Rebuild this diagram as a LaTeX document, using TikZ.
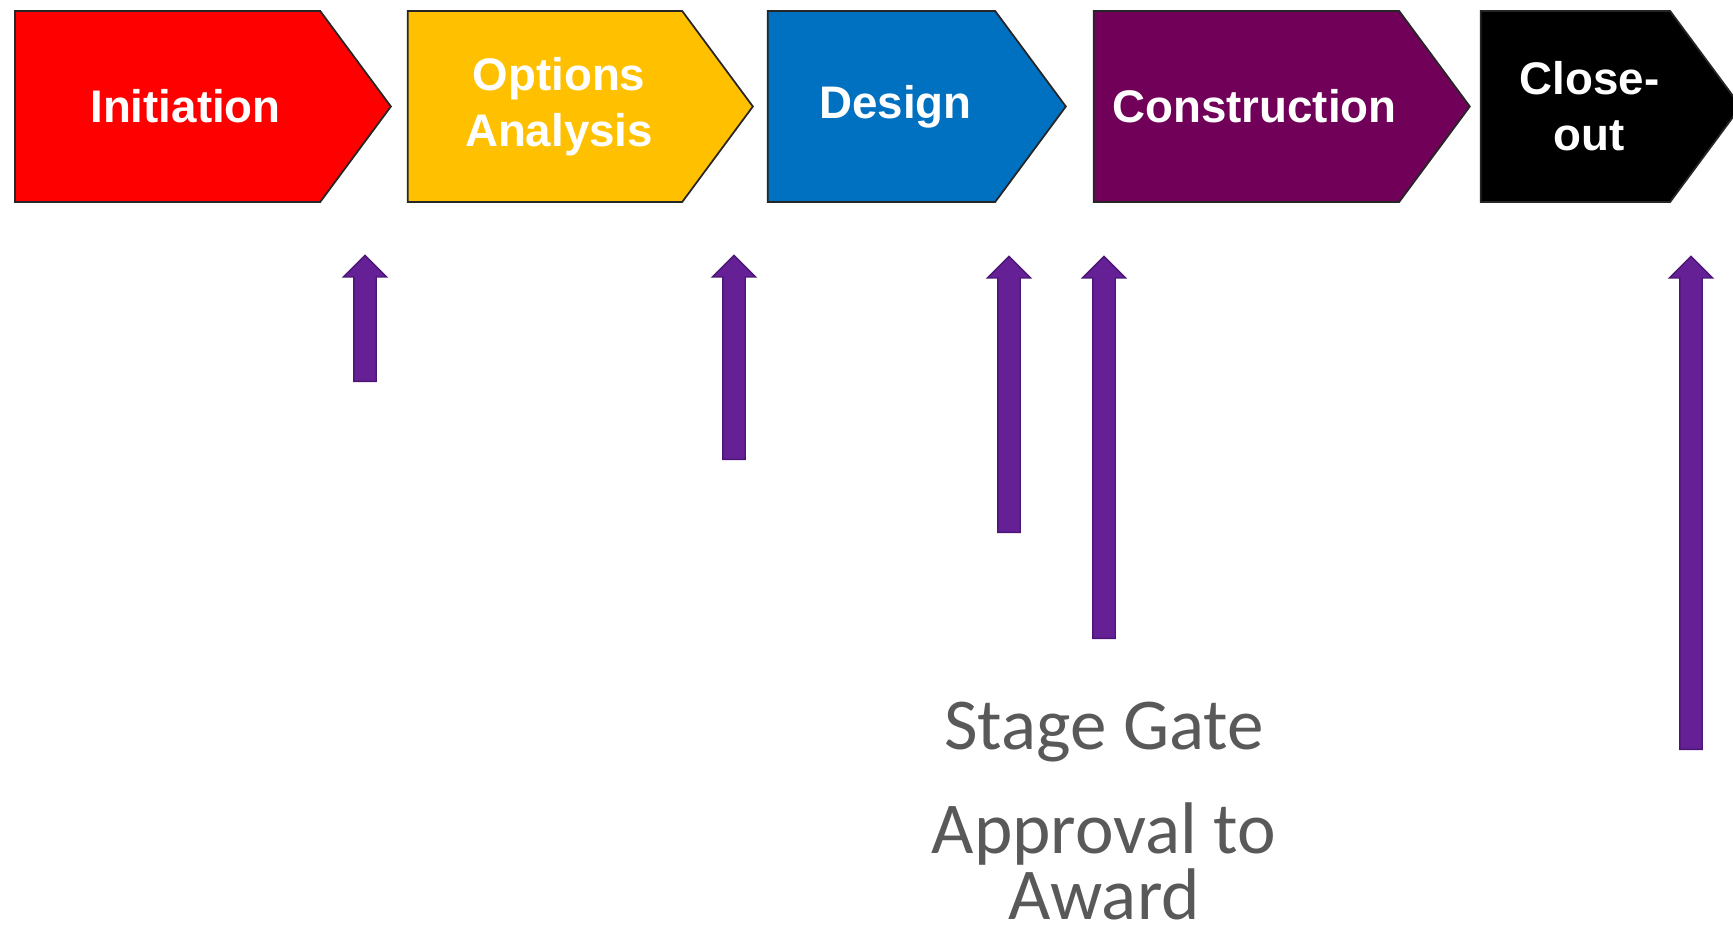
\documentclass[tikz,border=0pt]{standalone}
\usepackage{fontspec}
\setmainfont{Liberation Sans}
\newfontfamily\gatefont{Carlito}
\usetikzlibrary{positioning,shapes.symbols,shapes.arrows}
\definecolor{initred}{RGB}{255,0,0}
\definecolor{optyellow}{RGB}{255,192,0}
\definecolor{desblue}{RGB}{0,112,192}
\definecolor{conpurple}{RGB}{112,0,88}
\definecolor{gatepurple}{RGB}{102,32,150}
\definecolor{gateedge}{RGB}{76,22,118}
\definecolor{gatetext}{RGB}{89,89,89}
\newcommand{\tipgap}{\kern0.28cm}
\tikzset{
  ph/.style={signal, signal to=east, signal pointer angle=107, minimum height=1.91cm, inner sep=0pt, draw=black!85, line width=0.5pt, text=white, font=\fontsize{13}{16}\selectfont\bfseries, align=center},
  ga/.style={single arrow, single arrow head extend=0.105cm, single arrow tip angle=90, inner sep=0.105cm, rotate=90, anchor=tail, fill=gatepurple, draw=gateedge, line width=0.4pt},
  gl/.style={text=gatetext, font=\gatefont\fontsize{20.8}{18.5}\selectfont, align=center, inner sep=0pt},
  node distance=1.5mm
}
\begin{document}
\begin{tikzpicture}
	\useasboundingbox (0,0) rectangle (17.33,-9.27);
	% phases
	\node[ph, fill=initred, minimum width=3.76cm, anchor=west] (init) at (0.14,-1.065) {\tipgap\kern0.08cm Initiation};
	\node[ph, fill=optyellow, minimum width=3.45cm, right=0.15cm of init] (opt) {\tipgap Options\\\tipgap Analysis};
	\node[ph, fill=desblue, minimum width=2.98cm, right=0.13cm of opt] (des) {\tipgap Design};
	\node[ph, fill=conpurple, minimum width=3.76cm, right=0.26cm of des] (con) {\kern0.16cm Construction};
	\node[ph, fill=black, minimum width=2.60cm, right=0.09cm of con] (close) {\tipgap Close-\\\tipgap out};
	% gates
	\node[ga, minimum height=1.26cm] (g1) at (3.65,-3.82) {};
	\node[ga, minimum height=2.04cm] (g2) at (7.34,-4.60) {};
	\node[ga, minimum height=2.76cm] (g3) at (10.09,-5.33) {};
	\node[ga, minimum height=3.82cm] (g4) at (11.04,-6.39) {};
	\node[ga, minimum height=4.93cm] (g5) at (16.91,-7.50) {};
	% labels
	\node[gl, anchor=base] (gate) at (11.04,-7.49) {Stage Gate};
	\node[gl, anchor=base] (award) at (11.04,-9.19) {Approval to\\Award};
\end{tikzpicture}
\end{document}
